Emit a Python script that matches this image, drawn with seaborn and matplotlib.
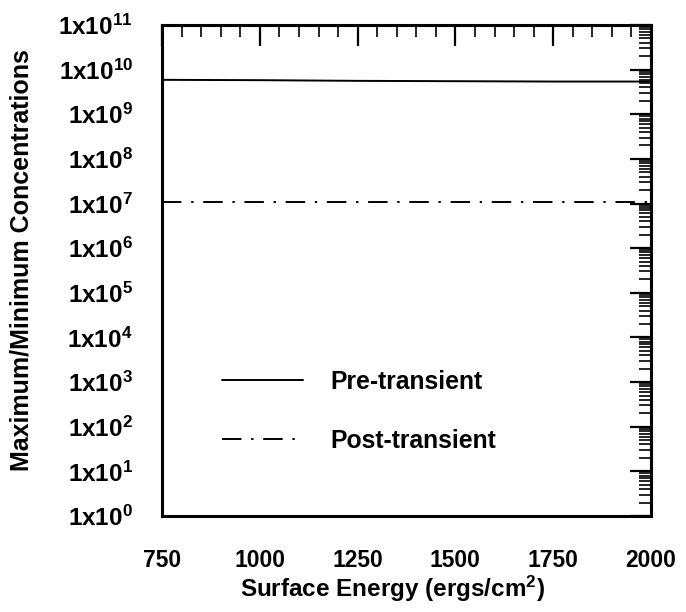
import numpy as np
import pandas as pd
import seaborn as sns
import matplotlib
matplotlib.use("Agg")
import matplotlib.pyplot as plt
from matplotlib.ticker import FixedLocator, LogLocator, NullFormatter

sns.set_theme(style="white")
plt.rcParams['font.family'] = ['Liberation Sans', 'DejaVu Sans']
plt.rcParams['font.weight'] = 'bold'
plt.rcParams['mathtext.fontset'] = 'custom'
plt.rcParams['mathtext.rm'] = 'Liberation Sans:bold'
plt.rcParams['mathtext.it'] = 'Liberation Sans:bold'
plt.rcParams['mathtext.bf'] = 'Liberation Sans:bold'
for key in ['text.color', 'axes.labelcolor', 'xtick.color', 'ytick.color', 'axes.edgecolor']:
    plt.rcParams[key] = 'black'

# Surface energy (ergs/cm^2) and the max/min concentration ratios
surface_energy = [750, 1000, 1250, 1500, 1750, 2000]
pre_transient = [5.9e9, 5.8e9, 5.6e9, 5.5e9, 5.4e9, 5.4e9]
post_transient = [1.07e7, 1.07e7, 1.07e7, 1.07e7, 1.07e7, 1.07e7]
series_names = ["Pre-transient", "Post-transient"]

x_ticks = [750, 1000, 1250, 1500, 1750, 2000]
y_exponents = list(range(0, 12))

df = pd.DataFrame({
    "energy": surface_energy * 2,
    "ratio": pre_transient + post_transient,
    "series": [series_names[0]] * len(surface_energy) + [series_names[1]] * len(surface_energy),
})

fig = plt.figure(figsize=(6.86, 6.12), dpi=100)
ax = fig.add_axes([0.2362, 0.1569, 0.7128, 0.8023])

sns.lineplot(data=df, x="energy", y="ratio", style="series", color="black",
             dashes={series_names[0]: "", series_names[1]: (10, 5, 1.2, 5)},
             linewidth=1.4, ax=ax)

ax.set_yscale("log")
ax.set_xlim(750, 2000)
ax.set_ylim(1, 1e11)

ax.xaxis.set_major_locator(FixedLocator(x_ticks))
ax.xaxis.set_minor_locator(FixedLocator(np.arange(750, 2001, 50)))
ax.set_xticklabels([str(t) for t in x_ticks], fontsize=16.5, fontweight="bold")
ax.yaxis.set_major_locator(FixedLocator([10.0 ** e for e in y_exponents]))
ax.yaxis.set_minor_locator(LogLocator(base=10, subs=np.arange(2, 10), numticks=100))
ax.yaxis.set_minor_formatter(NullFormatter())
ax.set_yticklabels([r"1x10$^{%d}$" % e for e in y_exponents], fontsize=17.5, fontweight="bold")

ax.tick_params(which="both", direction="in", top=True, right=True, color="black",
               labelcolor="black")
ax.tick_params(which="major", length=15, width=1.6)
ax.tick_params(which="minor", length=8.5, width=1.2)
ax.tick_params(axis="y", which="major", pad=21)
ax.tick_params(axis="x", which="major", pad=24)

for s in ax.spines.values():
    s.set_color("black")
    s.set_linewidth(2.2)

ax.set_xlabel(r"Surface Energy (ergs/cm$^{2}$)", fontsize=17.5, fontweight="bold", color="black")
ax.set_ylabel("Maximum/Minimum Concentrations", fontsize=18, fontweight="bold", color="black")
ax.xaxis.set_label_coords(0.472, -0.118)
ax.yaxis.set_label_coords(-0.262, 0.521)

leg = ax.legend(loc="upper left", bbox_to_anchor=(0.123, 0.297), frameon=False,
                fontsize=17.8, handlelength=3.25, handletextpad=1.13, labelspacing=1.4,
                borderpad=0, borderaxespad=0)
for t in leg.get_texts():
    t.set_fontweight("bold")
    t.set_color("black")
for h in leg.get_lines():
    h.set_linewidth(1.4)

fig.savefig("out.png", dpi=100)
